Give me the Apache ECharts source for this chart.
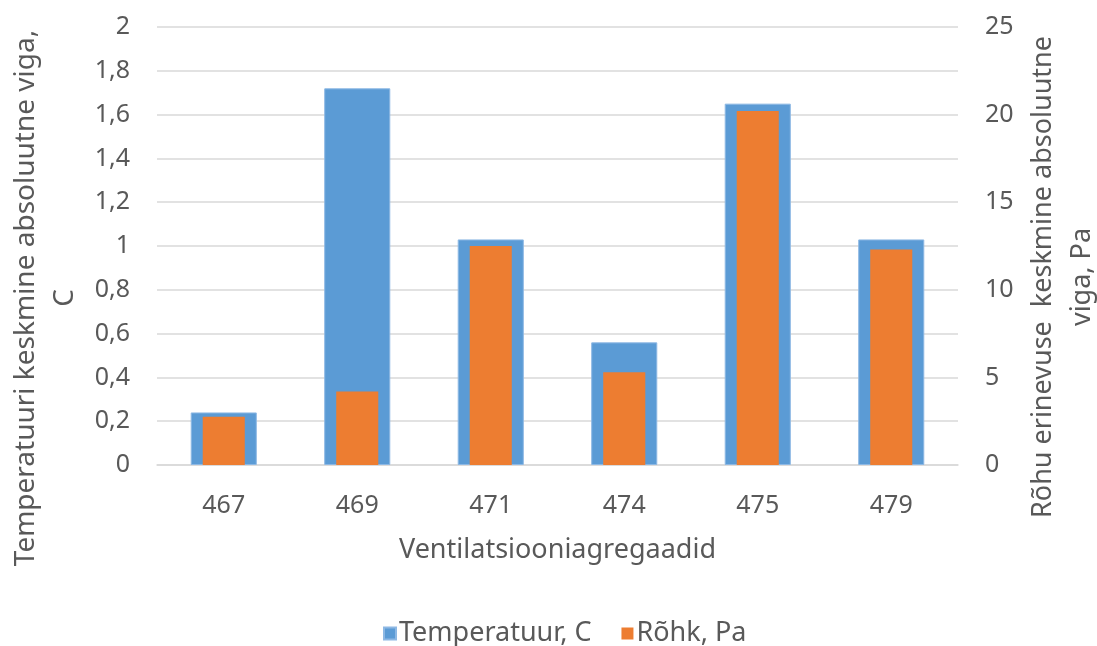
<!DOCTYPE html>
<html>
<head>
<meta charset="utf-8">
<script src="https://cdn.jsdelivr.net/npm/echarts@6/dist/echarts.min.js"></script>
<style>
  html, body { margin: 0; padding: 0; background: #fff; }
  #chart { width: 1097px; height: 646px; }
</style>
</head>
<body>
<div id="chart"></div>
<script>
// Ventilation units and their mean absolute errors
const categories = ['467', '469', '471', '474', '475', '479'];
const temperatureError = [0.24, 1.72, 1.03, 0.56, 1.65, 1.03];   // °C, left axis
const pressureError = [2.75, 4.2, 12.5, 5.3, 20.2, 12.3];        // Pa, right axis
const seriesNames = ['Temperatuur, C', 'Rõhk, Pa'];
const xAxisTitle = 'Ventilatsiooniagregaadid';
const leftAxisTitle = ['Temperatuuri keskmine absoluutne viga,', 'C'];
const rightAxisTitle = ['Rõhu erinevuse  keskmine absoluutne', 'viga, Pa'];

const FONT = '"Noto Sans", "Open Sans", sans-serif';
const TEXT = '#595959';
const GRID = '#d9d9d9';

const chart = echarts.init(document.getElementById('chart'), null, { renderer: 'canvas' });

const commaFmt = v => String(Math.round(v * 10) / 10).replace('.', ',');

function rotatedTitle(text, x, y, size) {
  return {
    type: 'text',
    x: x, y: y,
    rotation: Math.PI / 2,
    style: {
      text: text,
      font: size + 'px ' + FONT,
      fill: TEXT,
      align: 'center',
      verticalAlign: 'middle'
    }
  };
}

chart.setOption({
  animation: false,
  grid: { left: 157, right: 139, top: 27, bottom: 181, containLabel: false },
  legend: {
    top: 615,
    left: 378,
    icon: 'rect',
    itemWidth: 12,
    itemHeight: 12,
    itemGap: 30,
    textStyle: { fontFamily: FONT, fontSize: 27, color: TEXT, padding: [0, 0, 0, -2] },
    data: seriesNames
  },
  xAxis: [
    {
      type: 'category',
      data: categories,
      axisTick: { show: false },
      axisLine: { lineStyle: { color: GRID, width: 1.5 } },
      axisLabel: { fontFamily: FONT, fontSize: 25, color: TEXT, margin: 28 },
      name: xAxisTitle,
      nameLocation: 'middle',
      nameGap: 72,
      nameTextStyle: { fontFamily: FONT, fontSize: 27, color: TEXT }
    },
    {
      // second category axis so the narrower bars stay centred on each unit
      type: 'category',
      data: categories,
      position: 'bottom',
      show: false
    }
  ],
  yAxis: [
    {
      type: 'value',
      min: 0, max: 2, interval: 0.2,
      axisLine: { show: false },
      axisTick: { show: false },
      splitLine: { lineStyle: { color: GRID, width: 1.5 } },
      axisLabel: { fontFamily: FONT, fontSize: 25, color: TEXT, margin: 27, formatter: commaFmt }
    },
    {
      type: 'value',
      min: 0, max: 25, interval: 5,
      position: 'right',
      axisLine: { show: false },
      axisTick: { show: false },
      splitLine: { show: false },
      axisLabel: { fontFamily: FONT, fontSize: 25, color: TEXT, margin: 27 }
    }
  ],
  series: [
    {
      name: seriesNames[0],
      type: 'bar',
      xAxisIndex: 0,
      yAxisIndex: 0,
      data: temperatureError,
      barWidth: '49.5%',
      itemStyle: { color: '#5B9BD5', borderColor: '#8DB8E4', borderWidth: 1 },
      z: 2
    },
    {
      name: seriesNames[1],
      type: 'bar',
      xAxisIndex: 1,
      yAxisIndex: 1,
      data: pressureError,
      barWidth: '31.5%',
      itemStyle: { color: '#ED7D31' },
      z: 3
    }
  ],
  graphic: [
    rotatedTitle(leftAxisTitle[0], 26, 298, 28),
    rotatedTitle(leftAxisTitle[1], 65, 298, 28),
    rotatedTitle(rightAxisTitle[0], 1043, 277, 27),
    rotatedTitle(rightAxisTitle[1], 1082, 277, 27)
  ]
});
</script>
</body>
</html>
